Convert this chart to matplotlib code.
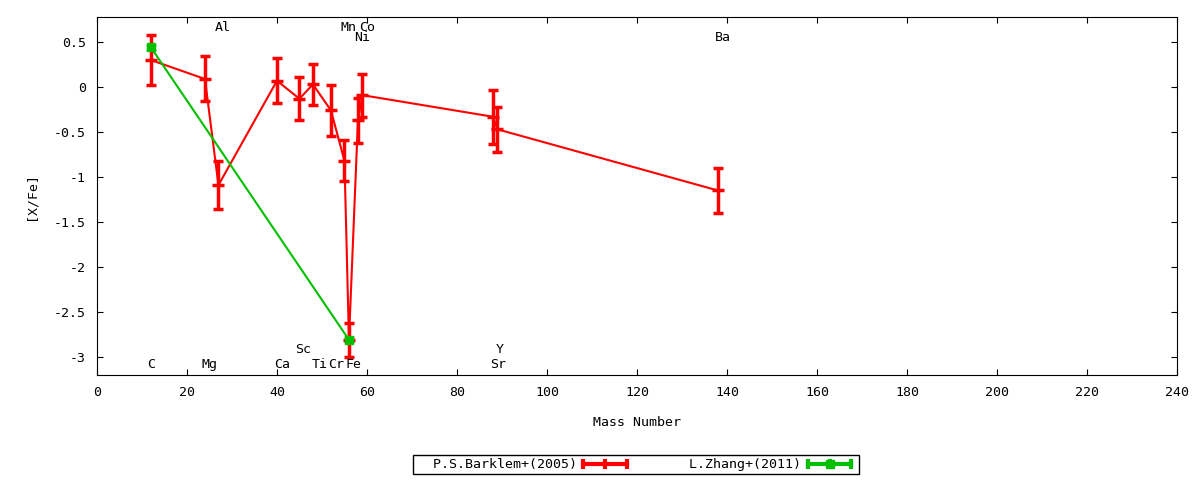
import matplotlib
matplotlib.use('Agg')
import matplotlib.pyplot as plt
from matplotlib.lines import Line2D
from matplotlib.legend_handler import HandlerLine2D, HandlerTuple

# Barklem+ (2005)
barklem_mass = [12, 24, 27, 40, 45, 48, 52, 55, 56, 58, 59, 88, 89, 138]
barklem_val = [0.30, 0.09, -1.09, 0.07, -0.13, 0.03, -0.26, -0.82, -2.81, -0.37, -0.09, -0.33, -0.47, -1.15]
barklem_err = [0.28, 0.25, 0.27, 0.25, 0.24, 0.23, 0.28, 0.23, 0.19, 0.25, 0.24, 0.30, 0.25, 0.25]

# Zhang+ (2011)
zhang_mass = [12, 56]
zhang_val = [0.44, -2.81]
zhang_err = [0.03, 0.03]

# element labels: name, x, y
elem_names = ['C', 'Mg', 'Ca', 'Ti', 'Cr', 'Fe', 'Sr', 'Sc', 'Y', 'Al', 'Mn', 'Co', 'Ni', 'Ba']
elem_x = [12.1, 25.1, 41.1, 49.4, 53.1, 56.9, 89.1, 45.9, 89.5, 27.9, 55.8, 60.0, 59.0, 139.2]
elem_y = [-3.08, -3.08, -3.08, -3.08, -3.08, -3.08, -3.08, -2.92, -2.92, 0.66, 0.66, 0.66, 0.55, 0.55]

RED = '#ff0000'
GREEN = '#00c000'

plt.rcParams['font.family'] = ['DejaVu Sans Mono']
plt.rcParams['font.size'] = 9.5

fig = plt.figure(figsize=(12, 4.8), dpi=100)
ax = fig.add_axes([0.0808, 0.219, 0.9, 0.7458])

ax.errorbar(barklem_mass, barklem_val, yerr=barklem_err, color=RED, lw=1.5,
            elinewidth=2.5, capsize=3.5, capthick=2.5, marker='_', ms=8, mew=2.5, zorder=2)
ax.errorbar(zhang_mass, zhang_val, yerr=zhang_err, color=GREEN, lw=1.5,
            elinewidth=2.5, capsize=3.5, capthick=2.5, marker='s', ms=6, mew=1, zorder=3)

for name, x, y in zip(elem_names, elem_x, elem_y):
    ax.text(x, y, name, ha='center', va='center')

ax.set_xlim(0, 240)
ax.set_ylim(-3.2, 0.78)
ax.set_xticks(range(0, 241, 20))
ax.set_yticks([0.5, 0, -0.5, -1, -1.5, -2, -2.5, -3])
ax.set_yticklabels(['0.5', '0', '-0.5', '-1', '-1.5', '-2', '-2.5', '-3'])
ax.tick_params(direction='in', top=True, right=True, length=4, pad=8)
ax.set_xlabel('Mass Number', labelpad=12)
ax.set_ylabel('[X/Fe]', labelpad=12)

# legend samples drawn like gnuplot's horizontal errorlines
red_h = Line2D([], [], color=RED, lw=3, marker='|', ms=7, mew=3)
green_caps = Line2D([], [], color=GREEN, lw=3, marker='|', ms=7, mew=3)
green_sq = Line2D([], [], color=GREEN, lw=0, marker='s', ms=6)
hmap = {red_h: HandlerLine2D(numpoints=3), green_caps: HandlerLine2D(numpoints=3),
        green_sq: HandlerLine2D(numpoints=1), tuple: HandlerTuple(ndivide=1)}
leg = fig.legend([red_h, (green_caps, green_sq)], ['  P.S.Barklem+(2005)', '    L.Zhang+(2011)'],
                 handler_map=hmap, loc='center', bbox_to_anchor=(0.53, 0.032), ncol=2,
                 markerfirst=False, fancybox=False, edgecolor='black', handlelength=3.9,
                 handletextpad=0.2, columnspacing=2, borderpad=0.25, borderaxespad=0,
                 framealpha=1)
leg.get_frame().set_linewidth(1)

fig.savefig('out.png', dpi=100)
